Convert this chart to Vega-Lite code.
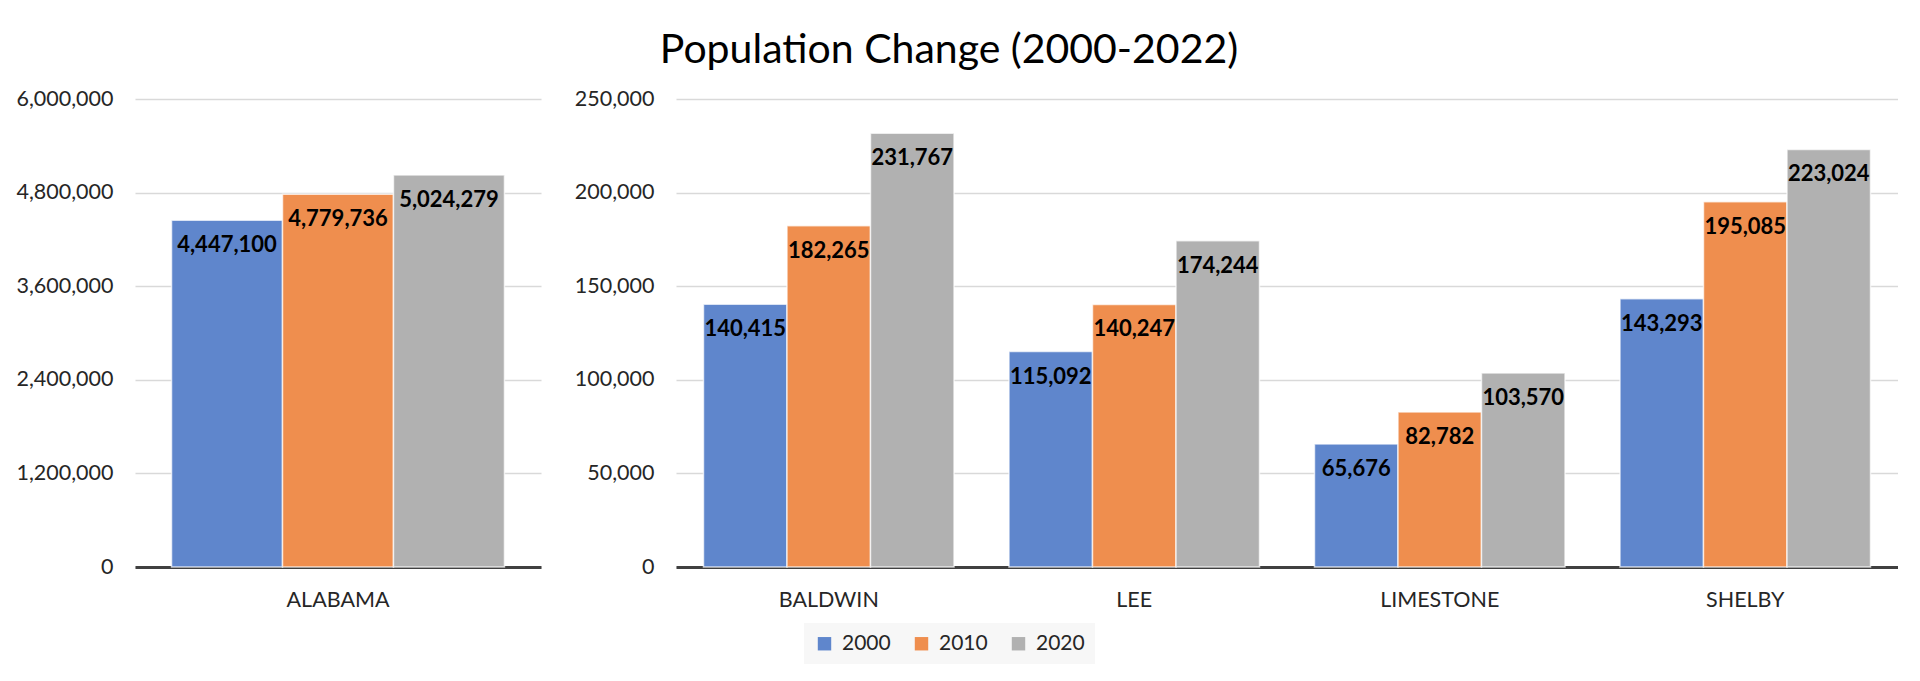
{
  "$schema": "https://vega.github.io/schema/vega-lite/v6.json",
  "padding": {"left": 0, "top": 30, "right": 0, "bottom": 0},
  "autosize": {"type": "pad"},
  "background": "white",
  "title": {"text": "Population Change (2000-2022)", "fontSize": 41, "font": "Lato", "fontWeight": "normal", "color": "#000000", "anchor": "middle", "offset": 16},
  "data": {"values": [
    {"county": "ALABAMA", "group": "state", "year": "2000", "pop": 4447100},
    {"county": "ALABAMA", "group": "state", "year": "2010", "pop": 4779736},
    {"county": "ALABAMA", "group": "state", "year": "2020", "pop": 5024279},
    {"county": "BALDWIN", "group": "county", "year": "2000", "pop": 140415},
    {"county": "BALDWIN", "group": "county", "year": "2010", "pop": 182265},
    {"county": "BALDWIN", "group": "county", "year": "2020", "pop": 231767},
    {"county": "LEE", "group": "county", "year": "2000", "pop": 115092},
    {"county": "LEE", "group": "county", "year": "2010", "pop": 140247},
    {"county": "LEE", "group": "county", "year": "2020", "pop": 174244},
    {"county": "LIMESTONE", "group": "county", "year": "2000", "pop": 65676},
    {"county": "LIMESTONE", "group": "county", "year": "2010", "pop": 82782},
    {"county": "LIMESTONE", "group": "county", "year": "2020", "pop": 103570},
    {"county": "SHELBY", "group": "county", "year": "2000", "pop": 143293},
    {"county": "SHELBY", "group": "county", "year": "2010", "pop": 195085},
    {"county": "SHELBY", "group": "county", "year": "2020", "pop": 223024}
  ]},
  "config": {
    "view": {"stroke": null},
    "font": "Lato",
    "axis": {"labelFont": "Lato", "labelFontSize": 21.5, "labelColor": "#262626", "title": null},
    "axisX": {"domainColor": "#404040", "domainWidth": 3, "ticks": false, "labelAngle": 0, "labelPadding": 22, "grid": false},
    "axisY": {"domain": false, "ticks": false, "grid": true, "gridColor": "#d9d9d9", "gridWidth": 1.5, "labelPadding": 22, "minExtent": 135, "maxExtent": 135},
    "legend": {"orient": "bottom", "direction": "horizontal", "title": null, "labelFont": "Lato", "labelFontSize": 21, "labelColor": "#262626", "symbolType": "square", "symbolSize": 180, "symbolStrokeWidth": 0, "fillColor": "#f7f7f7", "padding": 10, "columnPadding": 20, "labelOffset": 7, "offset": 12, "layout": {"bottom": {"anchor": "middle"}}}
  },
  "spacing": 0,
  "hconcat": [
    {
      "width": 406,
      "height": 468,
      "transform": [{"filter": "datum.group == 'state'"}],
      "encoding": {
        "x": {"field": "county", "type": "nominal", "scale": {"paddingInner": 0.18, "paddingOuter": 0.09}},
        "xOffset": {"field": "year", "type": "nominal"},
        "y": {"field": "pop", "type": "quantitative", "scale": {"domain": [0, 6000000], "nice": false}, "axis": {"values": [0, 1200000, 2400000, 3600000, 4800000, 6000000], "format": ",d"}}
      },
      "layer": [
        {"mark": {"type": "bar", "stroke": "white", "strokeWidth": 1.5, "strokeOpacity": 0.7},
         "encoding": {"color": {"field": "year", "type": "nominal", "scale": {"domain": ["2000", "2010", "2020"], "range": ["#5F86CC", "#EF8E4E", "#B1B1B1"]}}}},
        {"mark": {"type": "text", "baseline": "middle", "dy": 25, "fontWeight": "bold", "fontSize": 22, "font": "Lato", "color": "#000000"},
         "encoding": {"text": {"field": "pop", "type": "quantitative", "format": ",d"}}}
      ]
    },
    {
      "width": 1222,
      "height": 468,
      "transform": [{"filter": "datum.group == 'county'"}],
      "encoding": {
        "x": {"field": "county", "type": "nominal", "scale": {"paddingInner": 0.18, "paddingOuter": 0.09}},
        "xOffset": {"field": "year", "type": "nominal"},
        "y": {"field": "pop", "type": "quantitative", "scale": {"domain": [0, 250000], "nice": false}, "axis": {"values": [0, 50000, 100000, 150000, 200000, 250000], "format": ",d"}}
      },
      "layer": [
        {"mark": {"type": "bar", "stroke": "white", "strokeWidth": 1.5, "strokeOpacity": 0.7},
         "encoding": {"color": {"field": "year", "type": "nominal", "scale": {"domain": ["2000", "2010", "2020"], "range": ["#5F86CC", "#EF8E4E", "#B1B1B1"]}}}},
        {"mark": {"type": "text", "baseline": "middle", "dy": 25, "fontWeight": "bold", "fontSize": 22, "font": "Lato", "color": "#000000"},
         "encoding": {"text": {"field": "pop", "type": "quantitative", "format": ",d"}}}
      ]
    }
  ],
  "resolve": {"scale": {"y": "independent", "x": "independent", "xOffset": "independent"}}
}
